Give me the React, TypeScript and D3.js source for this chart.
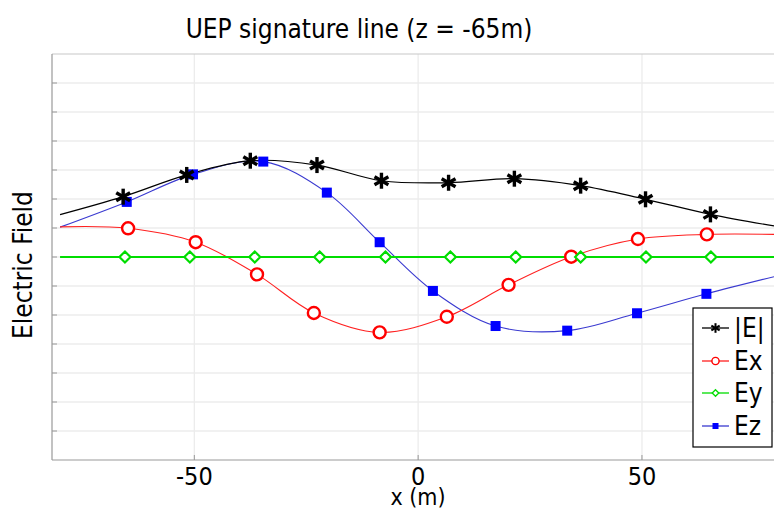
import * as d3 from "d3";

const W = 774;
const H = 509;
const left = 52;
const right = 774;
const top = 54;
const bottom = 460;

// curve samples (x in m, field in arbitrary units); interior points carry markers
const eAbsX = [-80, -65.9, -51.7, -37.5, -22.6, -8.2, 6.8, 21.5, 36.3, 50.8, 65.3, 79.5];
const eAbsV = [1.46, 2.08, 2.83, 3.32, 3.17, 2.63, 2.56, 2.7, 2.46, 1.99, 1.47, 1.07];

const exX = [-80, -64.8, -49.7, -36.0, -23.3, -8.6, 6.4, 20.2, 34.2, 49.1, 64.5, 79.5];
const exV = [1.04, 0.99, 0.51, -0.6, -1.93, -2.6, -2.06, -0.96, 0.01, 0.62, 0.78, 0.78];

const eyX = [-80, -65.5, -51.0, -36.5, -22.0, -7.3, 7.2, 21.8, 36.3, 50.9, 65.4, 79.5];
const eyV = [0, 0, 0, 0, 0, 0, 0, 0, 0, 0, 0, 0];

const ezX = [-80, -65.1, -50.3, -34.6, -20.4, -8.6, 3.3, 17.3, 33.3, 48.9, 64.4, 79.5];
const ezV = [1.03, 1.9, 2.85, 3.29, 2.22, 0.51, -1.17, -2.38, -2.54, -1.94, -1.27, -0.68];

const xTicks = [-50, 0, 50];
const yTicks = d3.range(-6, 7);
const legendNames = ["|E|", "Ex", "Ey", "Ez"];

const font = "'DejaVu Sans Condensed', 'DejaVu Sans', sans-serif";

type Kind = "star" | "circle" | "diamond" | "square";

const Marker = ({ x, y, kind, s }: { x: number; y: number; kind: Kind; s: number }) => {
  if (kind === "star") {
    const r = 8 * s;
    return (
      <g transform={`translate(${x},${y})`} stroke="#000" strokeWidth={3.4 * s} strokeLinecap="butt">
        {[90, 30, 150].map((a) => {
          const rad = (a * Math.PI) / 180;
          return (
            <line key={a} x1={-r * Math.cos(rad)} y1={-r * Math.sin(rad)} x2={r * Math.cos(rad)} y2={r * Math.sin(rad)} />
          );
        })}
      </g>
    );
  }
  if (kind === "circle")
    return <circle cx={x} cy={y} r={6 * s} fill="#fff" stroke="#ff0000" strokeWidth={2.4 * s} />;
  if (kind === "diamond") {
    const r = 5.5 * s;
    return (
      <path
        d={`M${x},${y - r}L${x + r},${y}L${x},${y + r}L${x - r},${y}Z`}
        fill="#fff"
        stroke="#00dd00"
        strokeWidth={2.2 * s}
      />
    );
  }
  const h = 5 * s;
  return <rect x={x - h} y={y - h} width={2 * h} height={2 * h} fill="#0000ff" />;
};

export default function App() {
  const x = d3.scaleLinear().domain([-81.8, 79.5]).range([left, right]);
  const y = d3.scaleLinear().domain([-7, 7]).range([bottom, top]);

  const line = d3
    .line<[number, number]>()
    .x((d) => x(d[0]))
    .y((d) => y(d[1]))
    .curve(d3.curveCatmullRom.alpha(0.5));

  const series = [
    { xs: eAbsX, vs: eAbsV, color: "#000", width: 1.2, kind: "star" as Kind },
    { xs: exX, vs: exV, color: "#ff2020", width: 1.1, kind: "circle" as Kind },
    { xs: eyX, vs: eyV, color: "#00dd00", width: 1.8, kind: "diamond" as Kind },
    { xs: ezX, vs: ezV, color: "#3a3ad0", width: 1.1, kind: "square" as Kind },
  ];
  const drawOrder = [3, 1, 2, 0];

  const legendY = [328, 361, 393, 426];

  return (
    <svg width={W} height={H} style={{ position: "absolute", left: 0, top: 0, background: "#fff" }} fontFamily={font}>
      <rect width={W} height={H} fill="#fff" />
      <text x={359} y={38} textAnchor="middle" fontSize={26} fill="#000">
        UEP signature line (z = -65m)
      </text>

      {/* grid */}
      {yTicks.map((t) => (
        <line key={"gy" + t} x1={left} x2={right} y1={y(t)} y2={y(t)} stroke="#ececec" strokeWidth={1.3} />
      ))}
      {xTicks.map((t) => (
        <line key={"gx" + t} x1={x(t)} x2={x(t)} y1={top} y2={bottom} stroke="#ececec" strokeWidth={1.3} />
      ))}

      {/* frame */}
      <line x1={left} x2={right} y1={top} y2={top} stroke="#c8c8c8" strokeWidth={1.2} />
      <line x1={left} x2={left} y1={top} y2={bottom} stroke="#999" strokeWidth={1.2} />
      <line x1={left} x2={right} y1={bottom} y2={bottom} stroke="#999" strokeWidth={1.2} />
      {yTicks.map((t) => (
        <line key={"ty" + t} x1={left} x2={left + 5} y1={y(t)} y2={y(t)} stroke="#999" strokeWidth={1} />
      ))}
      {xTicks.map((t) => (
        <line key={"tx" + t} x1={x(t)} x2={x(t)} y1={bottom} y2={bottom - 5} stroke="#999" strokeWidth={1} />
      ))}

      {/* curves */}
      <g>
        {drawOrder.map((i) => {
          const s = series[i];
          const pts = s.xs.map((v, j) => [v, s.vs[j]] as [number, number]);
          return <path key={"l" + i} d={line(pts) ?? ""} fill="none" stroke={s.color} strokeWidth={s.width} />;
        })}
        {drawOrder.map((i) => {
          const s = series[i];
          return (
            <g key={"m" + i}>
              {s.xs.slice(1, -1).map((v, j) => (
                <Marker key={j} x={x(v)} y={y(s.vs[j + 1])} kind={s.kind} s={1} />
              ))}
            </g>
          );
        })}
      </g>

      {/* axis labels */}
      {xTicks.map((t) => (
        <text key={"lx" + t} x={x(t)} y={485} textAnchor="middle" fontSize={25} fill="#000">
          {t}
        </text>
      ))}
      <text x={418} y={505} textAnchor="middle" fontSize={23} fill="#000">
        x (m)
      </text>
      <text
        transform={`translate(32,265) rotate(-90)`}
        textAnchor="middle"
        fontSize={26}
        fill="#000"
      >
        Electric Field
      </text>

      {/* legend */}
      <rect x={693} y={308} width={79} height={139} fill="#fff" stroke="#000" strokeWidth={1.2} />
      {series.map((s, i) => (
        <g key={"lg" + i}>
          <line x1={702} x2={729} y1={legendY[i]} y2={legendY[i]} stroke={s.color} strokeWidth={1.3} />
          <Marker x={715.5} y={legendY[i]} kind={s.kind} s={0.6} />
          <text x={734} y={legendY[i]} dominantBaseline="central" fontSize={26} fill="#000">
            {legendNames[i]}
          </text>
        </g>
      ))}
    </svg>
  );
}
